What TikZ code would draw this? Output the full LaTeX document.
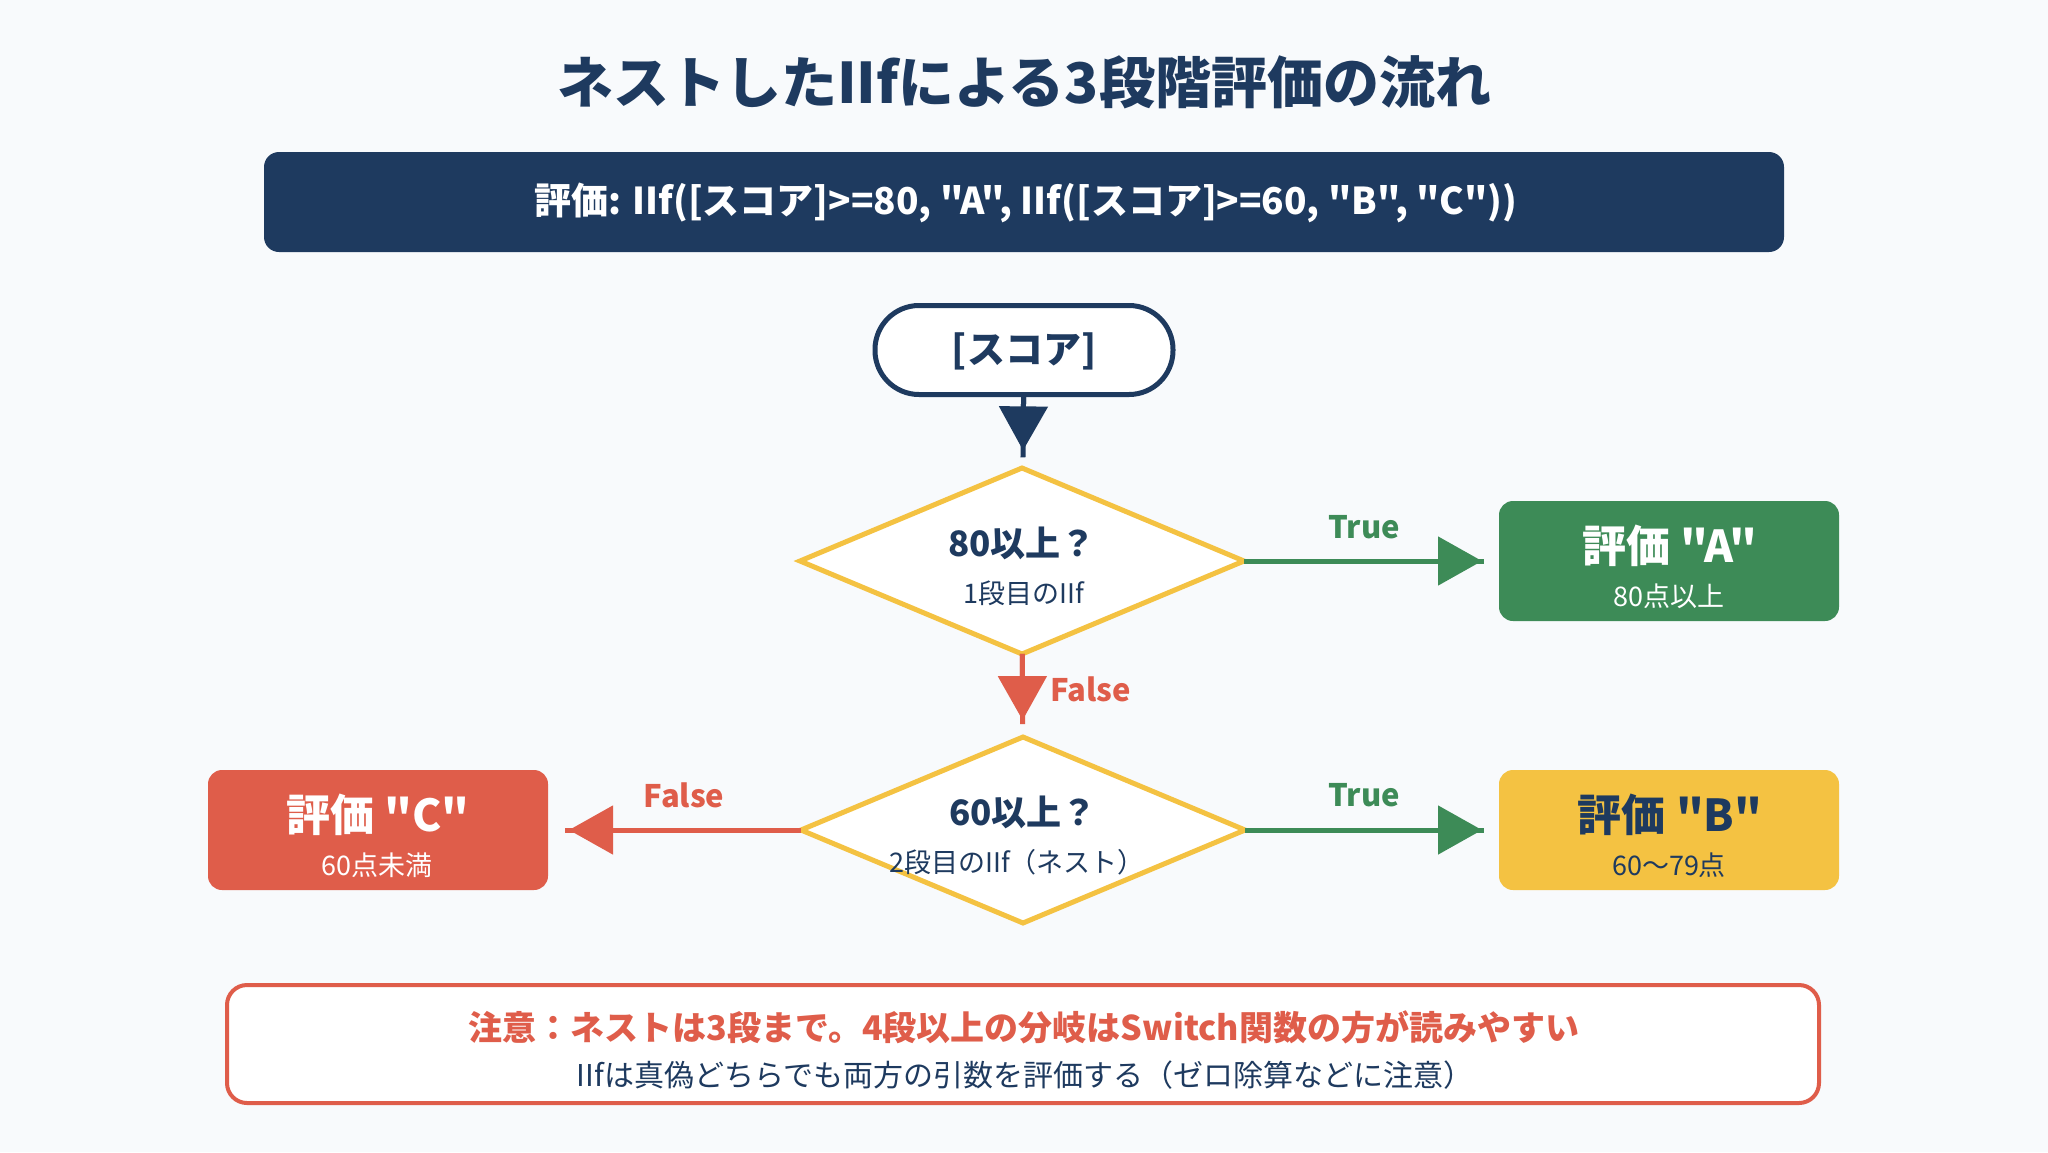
\documentclass[tikz,border=0pt]{standalone}
\usepackage{fontspec}
\setmainfont{Noto Sans CJK JP}[Ligatures=TeXOff]
\usetikzlibrary{arrows.meta,shapes.geometric}
\definecolor{navy}{HTML}{1E3A5F}
\definecolor{okgreen}{HTML}{3D8B57}
\definecolor{ngred}{HTML}{DF5D4A}
\definecolor{amber}{HTML}{F4C242}
\definecolor{bg}{HTML}{F8FAFC}
\newcommand{\fs}[1]{\fontsize{#1}{#1}\selectfont}
\begin{document}
\begin{tikzpicture}[x=1pt,y=-1pt,
  txt/.style={inner sep=0pt, outer sep=0pt, anchor=center},
  result/.style={rounded corners=14pt, minimum width=340pt, minimum height=120pt, inner sep=0pt, outer sep=0pt},
  decision/.style={diamond, draw=amber, line width=5pt, fill=white, aspect=2.39, minimum width=444pt, minimum height=186pt, inner sep=0pt, outer sep=0pt},
  conn/.style={line width=5pt},
  tipped/.style={-{Triangle[length=44pt,width=48pt]}},
  lab/.style={inner sep=0pt, font=\fs{31}\bfseries}
]
\path[fill=bg] (0,0) rectangle (2048,1152);

% title
\node[txt, text=navy, font=\fs{56}\bfseries] (title) at (1024,82) {ネストしたIIfによる3段階評価の流れ};

% formula bar
\node[fill=navy, rounded corners=15pt, minimum width=1520pt, minimum height=100pt, inner sep=0pt] (formula) at (1024,202) {};
\node[txt, text=white, font=\fs{37}\bfseries] (formulatxt) at (1026,203) {評価: IIf([スコア]>=80, "A", IIf([スコア]>=60, "B", "C"))};

% start
\node[draw=navy, line width=5pt, fill=white, rounded corners=44pt, minimum width=298pt, minimum height=89pt, inner sep=0pt, outer sep=0pt] (start) at (1024,350) {};
\node[txt, text=navy, font=\fs{38}\bfseries] (starttxt) at (1024,351) {[スコア]};

% decisions
\node[decision] (d1) at (1022,561) {};
\node[txt, text=navy, font=\fs{35}\bfseries] (d1t) at (1022,543) {80以上？};
\node[txt, text=navy, font=\fs{27}] (d1s) at (1024,593) {1段目のIIf};

\node[decision] (d2) at (1023,830) {};
\node[txt, text=navy, font=\fs{35}\bfseries] (d2t) at (1023,812) {60以上？};
\node[txt, text=navy, font=\fs{27}] (d2s) at (1017,862) {2段目のIIf（ネスト）};

% results
\node[result, fill=okgreen] (A) at (1669,561) {};
\node[txt, text=white, font=\fs{44}\bfseries] (At) at (1670,546) {評価 "A"};
\node[txt, text=white, font=\fs{27}] (As) at (1669,596) {80点以上};

\node[result, fill=amber] (B) at (1669,830) {};
\node[txt, text=navy, font=\fs{44}\bfseries] (Bt) at (1670,815) {評価 "B"};
\node[txt, text=navy, font=\fs{27}] (Bs) at (1669,865) {60〜79点};

\node[result, fill=ngred] (C) at (378,830) {};
\node[txt, text=white, font=\fs{44}\bfseries] (Ct) at (378,815) {評価 "C"};
\node[txt, text=white, font=\fs{27}] (Cs) at (377,865) {60点未満};

% connectors
\draw[conn, navy, shorten >=11pt] (start) -- (d1);
\draw[conn, navy, tipped, shorten >=18pt] (start) -- (d1);

\draw[conn, okgreen, shorten >=15pt] (d1) -- (A);
\draw[conn, okgreen, tipped, shorten >=17pt] (d1) -- (A);
\node[lab, text=okgreen] (true1) at (1364,527) {True};

\draw[conn, ngred, shorten >=13pt] (d1) -- (d2);
\draw[conn, ngred, tipped, shorten >=17pt] (d1) -- (d2);
\node[lab, text=ngred, anchor=west] (false1) at (1050,689) {False};

\draw[conn, okgreen, shorten >=15pt] (d2) -- (B);
\draw[conn, okgreen, tipped, shorten >=17pt] (d2) -- (B);
\node[lab, text=okgreen] (true2) at (1364,795) {True};

\draw[conn, ngred, shorten >=17pt] (d2) -- (C);
\draw[conn, ngred, tipped, shorten >=21pt] (d2) -- (C);
\node[lab, text=ngred] (false2) at (684,795) {False};

% note
\node[draw=ngred, line width=4pt, fill=white, rounded corners=20pt, minimum width=1592pt, minimum height=118pt, inner sep=0pt] (note) at (1023,1044) {};
\node[txt, text=ngred, font=\fs{34}\bfseries] (note1) at (1024,1027) {注意：ネストは3段まで。4段以上の分岐はSwitch関数の方が読みやすい};
\node[txt, text=navy, font=\fs{30}] (note2) at (1025,1075) {IIfは真偽どちらでも両方の引数を評価する（ゼロ除算などに注意）};
\end{tikzpicture}
\end{document}
